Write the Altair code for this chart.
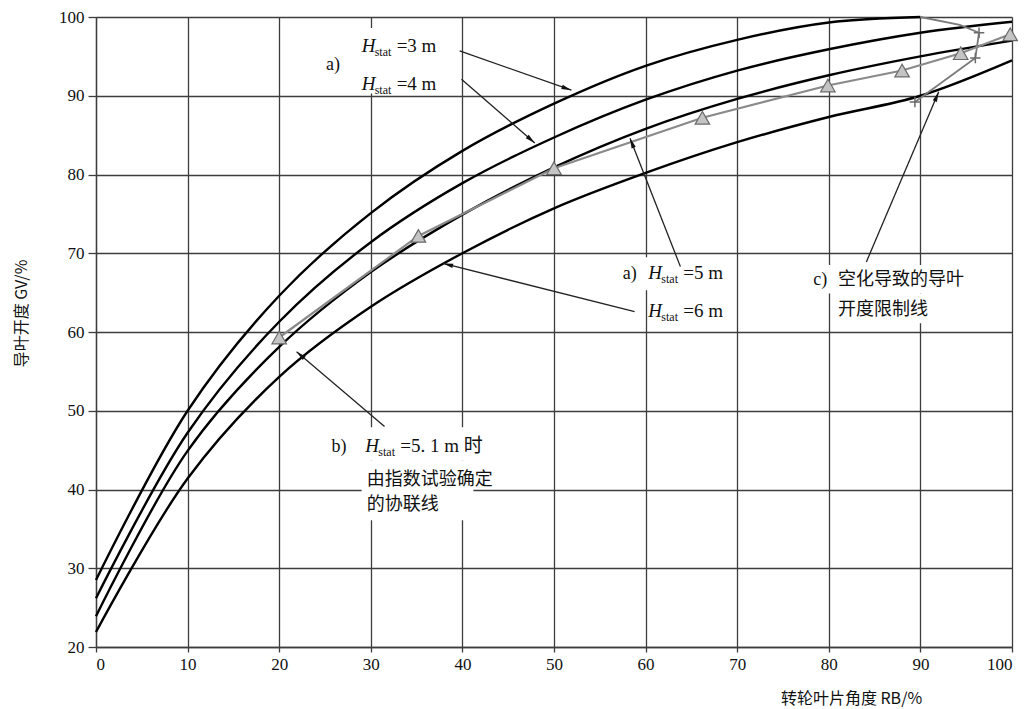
import math
import altair as alt
import pandas as pd

# ---------------- data ----------------
RB = [0, 10, 20, 30, 40, 50, 60, 70, 80, 90, 100]
GV_H3 = [28.5, 50.0, 64.6, 75.1, 83.0, 89.0, 93.8, 97.1, 99.3, 100.0]
GV_H4 = [26.2, 47.2, 61.3, 71.4, 78.9, 84.7, 89.5, 93.2, 95.9, 98.0, 99.4]
GV_H5 = [23.9, 44.9, 58.1, 67.6, 74.9, 80.9, 85.8, 89.6, 92.6, 95.0, 97.0]
GV_H6 = [21.9, 41.4, 54.3, 63.2, 70.0, 75.7, 80.2, 84.1, 87.3, 90.0, 94.5]
SERIES = ["H3", "H4", "H5", "H6"]

# b) combination line from index tests (triangles)
TEST_RB = [20.0, 35.2, 50.0, 66.2, 79.9, 88.0, 94.4, 99.8]
TEST_GV = [59.3, 72.2, 80.8, 87.2, 91.3, 93.2, 95.4, 97.8]

# c) cavitation limit line (+ markers)
LIMIT_RB = [89.4, 96.0, 96.4, 94.3, 90.0]
LIMIT_GV = [89.2, 94.8, 98.0, 99.0, 100.0]
LIMIT_MARK = [True, True, True, False, False]

# annotation leader lines (start -> arrow tip)
ARROW_X1 = [39.7, 39.9, 63.8, 58.8, 31.5, 84.1]
ARROW_Y1 = [95.7, 92.1, 68.3, 62.6, 48.0, 68.9]
ARROW_X2 = [51.9, 47.9, 58.3, 37.9, 21.9, 92.0]
ARROW_Y2 = [90.7, 84.0, 84.6, 68.7, 57.5, 90.5]

# white label backgrounds
BOX_X1 = [24.4, 57.0, 60.3, 77.4, 80.7, 25.0, 29.0, 29.0]
BOX_X2 = [39.5, 69.8, 69.8, 97.1, 95.0, 44.6, 45.4, 41.2]
BOX_Y1 = [90.3, 65.3, 60.6, 64.9, 61.1, 43.7, 40.2, 36.1]
BOX_Y2 = [98.6, 69.5, 65.0, 68.5, 64.9, 47.9, 43.7, 40.2]

# label texts
LETTER_TEXT = ["a)", "a)", "b)", "c)"]
LETTER_X = [25.1, 57.5, 25.7, 78.3]
LETTER_Y = [93.3, 66.7, 44.8, 66.0]

H_X = [29.0, 29.0, 60.3, 60.3, 29.4]
H_Y = [95.6, 90.7, 66.7, 61.9, 44.8]
H_REST = ["=3 m", "=4 m", "=5 m", "=6 m", "=5. 1 m 时"]

CJK_TEXT = ["由指数试验确定", "的协联线", "空化导致的导叶", "开度限制线"]
CJK_X = [29.55, 29.55, 81.0, 81.0]
CJK_Y = [40.6, 37.4, 66.0, 62.2]

# ---------------- chart ----------------
W, H = 916, 630
GRID = "#3d3d3d"
SERIF = "Liberation Serif"
TSERIF = "Liberation Serif, Noto Sans CJK SC"
CJK = "Noto Sans CJK SC"

rows = []
for name, vals in zip(SERIES, [GV_H3, GV_H4, GV_H5, GV_H6]):
    for rb, gv in zip(RB, vals):
        rows.append({"rb": rb, "gv": gv, "series": name})
curves = pd.DataFrame(rows)

test = pd.DataFrame({"rb": TEST_RB, "gv": TEST_GV})
limit = pd.DataFrame({"rb": LIMIT_RB, "gv": LIMIT_GV, "i": list(range(len(LIMIT_RB))), "m": LIMIT_MARK})
limit_pts = limit[limit["m"]]

angles = []
for x1, y1, x2, y2 in zip(ARROW_X1, ARROW_Y1, ARROW_X2, ARROW_Y2):
    dxp = (x2 - x1) * W / 100.0
    dyp = (y2 - y1) * H / 80.0
    angles.append(math.degrees(math.atan2(dxp, dyp)) % 360)
arrows = pd.DataFrame({"rb": ARROW_X1, "gv": ARROW_Y1, "rb2": ARROW_X2, "gv2": ARROW_Y2, "ang": angles})
tips = pd.DataFrame({"rb": ARROW_X2, "gv": ARROW_Y2, "ang": angles})

boxes = pd.DataFrame({"rb": BOX_X1, "rb2": BOX_X2, "gv": BOX_Y1, "gv2": BOX_Y2})
letters = pd.DataFrame({"rb": LETTER_X, "gv": LETTER_Y, "t": LETTER_TEXT})
hlab = pd.DataFrame({"rb": H_X, "gv": H_Y, "t": H_REST})
cjk = pd.DataFrame({"rb": CJK_X, "gv": CJK_Y, "t": CJK_TEXT})

xs = alt.Scale(domain=[0, 100], nice=False, zero=False)
ys = alt.Scale(domain=[20, 100], nice=False, zero=False)

x_axis = alt.Axis(
    values=list(range(0, 101, 10)), grid=True, gridColor=GRID, gridWidth=1.3,
    domainColor=GRID, domainWidth=1.3, tickColor=GRID, tickWidth=1.3, tickSize=5,
    labelFont=SERIF, labelFontSize=17, labelColor="#111", labelPadding=4,
    title="转轮叶片角度 RB/%", titleFont=CJK, titleFontSize=16, titleFontWeight="normal",
    titleColor="#111", titleX=755, titleY=51, titleAlign="center", titleBaseline="middle",
)
y_axis = alt.Axis(
    values=list(range(20, 101, 10)), grid=True, gridColor=GRID, gridWidth=1.3,
    domainColor=GRID, domainWidth=1.3, tickColor=GRID, tickWidth=1.3, tickSize=8,
    labelFont=SERIF, labelFontSize=17, labelColor="#111", labelPadding=4,
    title="导叶开度 GV/%", titleFont=CJK, titleFontSize=16, titleFontWeight="normal",
    titleColor="#111", titleX=-75, titleY=296, titleAngle=270, titleAlign="center",
    titleBaseline="middle",
)

X = alt.X("rb:Q", scale=xs, axis=x_axis)
Y = alt.Y("gv:Q", scale=ys, axis=y_axis)

box_layer = alt.Chart(boxes).mark_rect(fill="white").encode(
    x=X, x2="rb2:Q", y=Y, y2="gv2:Q")

curve_layer = alt.Chart(curves).mark_line(color="black", strokeWidth=2.4, interpolate="catmull-rom").encode(
    x=X, y=Y, detail="series:N")

limit_layer = alt.Chart(limit).mark_line(color="#7a7a7a", strokeWidth=1.8).encode(
    x=X, y=Y, order="i:Q")
limit_pts_layer = alt.Chart(limit_pts).mark_point(
    shape="M-1,0H1M0,-1V1", size=110, filled=False, stroke="#6a6a6a", strokeWidth=1.5, opacity=1).encode(
    x=X, y=Y)

test_layer = alt.Chart(test).mark_line(color="#8a8a8a", strokeWidth=2.2).encode(x=X, y=Y)
tri_layer = alt.Chart(test).mark_point(
    shape="triangle-up", size=210, filled=True, fill="#c4c4c4", stroke="#6a6a6a", strokeWidth=1.2, opacity=1).encode(
    x=X, y=Y)

rule_layer = alt.Chart(arrows).mark_rule(color="#222", strokeWidth=1.3).encode(
    x=X, y=Y, x2="rb2:Q", y2="gv2:Q")
tip_layer = alt.Chart(tips).mark_point(
    shape="M0,0L0.45,2L-0.45,2Z", size=100, filled=True, color="#111", opacity=1).encode(
    x=X, y=Y, angle=alt.Angle("ang:Q", scale=None))

letter_layer = alt.Chart(letters).mark_text(
    font=TSERIF, fontSize=18, align="left", baseline="alphabetic", color="#111").encode(
    x=X, y=Y, text="t:N")
hH_layer = alt.Chart(hlab).mark_text(
    font="Liberation Serif", fontStyle="italic", fontSize=19, align="left", baseline="alphabetic", color="#111").encode(
    x=X, y=Y, text=alt.value("H"))
hsub_layer = alt.Chart(hlab).mark_text(
    font="Liberation Serif", fontSize=12, align="left", baseline="alphabetic", dx=13, dy=4, color="#111").encode(
    x=X, y=Y, text=alt.value("stat"))
hrest_layer = alt.Chart(hlab).mark_text(
    font=TSERIF, fontSize=19, align="left", baseline="alphabetic", dx=35, color="#111").encode(
    x=X, y=Y, text="t:N")
cjk_layer = alt.Chart(cjk).mark_text(
    font=CJK, fontSize=18, align="left", baseline="alphabetic", color="#111").encode(
    x=X, y=Y, text="t:N")

chart = alt.layer(
    box_layer, curve_layer, limit_layer, limit_pts_layer, test_layer, tri_layer,
    rule_layer, tip_layer, letter_layer, hH_layer, hsub_layer, hrest_layer, cjk_layer,
).properties(
    width=W, height=H,
    autosize=alt.AutoSizeParams(type="none"),
    padding={"left": 88, "top": 9, "right": 14, "bottom": 60},
    background="white",
).configure_view(stroke=None)

chart.save("out.html", embed_options={"renderer": "svg", "actions": False})
